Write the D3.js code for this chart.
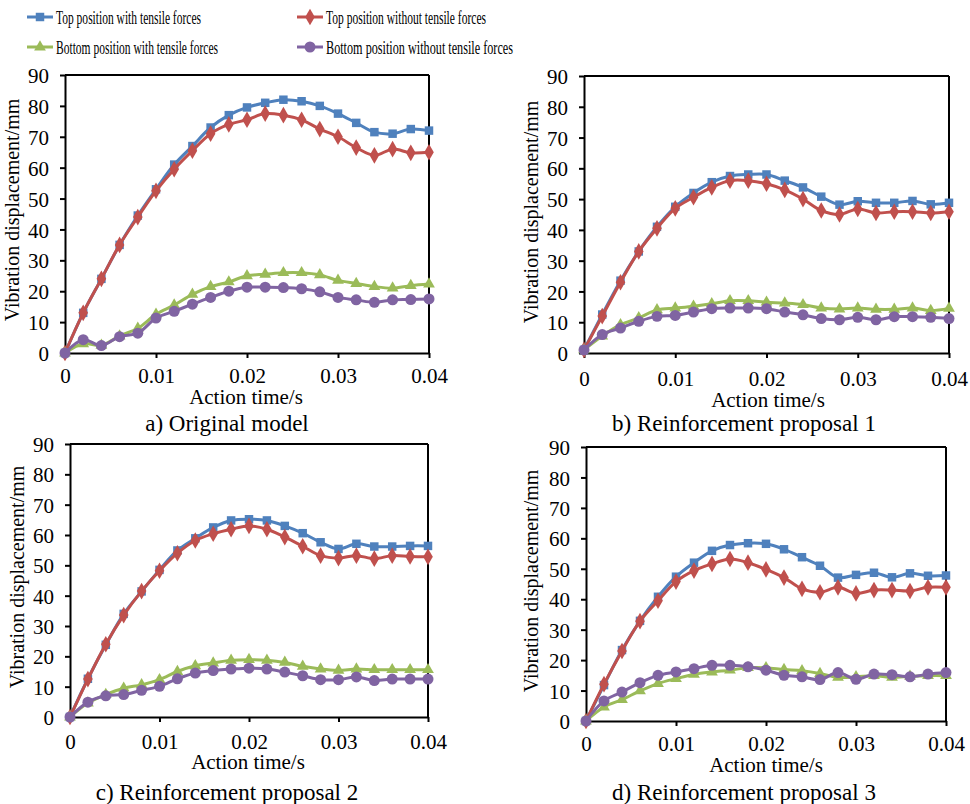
<!DOCTYPE html>
<html>
<head>
<meta charset="utf-8">
<script src="https://cdn.jsdelivr.net/npm/d3@7"></script>
<style>
  body { margin: 0; background: #fff; }
  svg { display: block; font-family: "Liberation Serif", "Times New Roman", serif; }
</style>
</head>
<body>
<script>
// action time (s)
const time = [0, 0.002, 0.004, 0.006, 0.008, 0.01, 0.012, 0.014, 0.016, 0.018, 0.02,
              0.022, 0.024, 0.026, 0.028, 0.03, 0.032, 0.034, 0.036, 0.038, 0.04];

const seriesNames = ["Top position with tensile forces", "Top position without tensile forces",
                     "Bottom position with tensile forces", "Bottom position without tensile forces"];
const captions = ["a) Original model", "b) Reinforcement proposal 1",
                  "c) Reinforcement proposal 2", "d) Reinforcement proposal 3"];

const yTicks = [0, 10, 20, 30, 40, 50, 60, 70, 80, 90];
const xTicks = [0, 0.01, 0.02, 0.03, 0.04];
const xTickLabels = ["0", "0.01", "0.02", "0.03", "0.04"];

// a) original model
const aTopWith    = [0, 13, 24, 35, 44.5, 53, 61, 67, 73, 77, 79.5, 81, 82, 81.5, 80, 77.5, 74.5, 71.5, 71, 72.5, 72];
const aTopWithout = [0, 13, 24, 35, 44, 52.5, 59.5, 65.5, 71, 74, 75.5, 77.5, 77, 75.5, 72.5, 70, 66.5, 64, 66, 64.8, 65];
const aBotWith    = [0, 3, 2.5, 5.5, 8, 12.5, 15.5, 19, 21.5, 23, 25, 25.5, 26, 26, 25.3, 23.5, 22.5, 21.5, 21, 21.8, 22.3];
const aBotWithout = [0, 4.3, 2.4, 5.3, 6.4, 11.3, 13.5, 15.8, 18, 20, 21.3, 21.3, 21.2, 20.8, 19.8, 18, 17.2, 16.4, 17.2, 17.3, 17.5];

// b) reinforcement proposal 1
const bTopWith    = [1, 12.5, 23.5, 33, 41, 47.5, 52, 55.5, 57.5, 58, 58, 56, 53.8, 50.8, 48.2, 49.3, 48.8, 48.8, 49.4, 48.3, 48.8];
const bTopWithout = [1, 12, 23, 33, 40.5, 47, 50.6, 53.8, 56, 56, 55, 53, 50, 46.3, 45, 46.8, 45.5, 45.9, 45.9, 45.5, 45.9];
const bBotWith    = [1, 5.5, 9.2, 11.4, 14, 14.6, 15.2, 16, 17, 17, 16.5, 16.2, 15.7, 14.6, 14.3, 14.6, 14.2, 14.2, 14.6, 13.8, 14.5];
const bBotWithout = [1, 6, 8.1, 10.3, 11.9, 12.2, 13.3, 14.4, 14.6, 14.6, 14.4, 13.3, 12.4, 11.2, 10.8, 11.6, 10.8, 11.8, 11.8, 11.6, 11.2];

// c) reinforcement proposal 2
const cTopWith    = [0, 12.6, 23.8, 34, 41.4, 48.5, 54.9, 58.9, 62.5, 64.8, 65.2, 64.8, 63, 60.6, 57.6, 55.4, 57.1, 56.2, 56.2, 56.4, 56.4];
const cTopWithout = [0, 12.5, 24, 33.6, 41.5, 48.2, 54, 58.2, 60.4, 61.9, 63, 61.9, 59.3, 56.3, 53.2, 52.4, 53.2, 52.2, 53.2, 52.9, 52.8];
const cBotWith    = [0, 4.6, 7.4, 9.5, 10.6, 12.3, 15, 16.9, 17.8, 18.7, 18.9, 18.7, 18, 16.7, 15.8, 15.4, 15.8, 15.6, 15.6, 15.6, 15.6];
const cBotWithout = [0, 4.9, 7, 7.4, 8.8, 10.1, 12.6, 14.5, 15.3, 15.8, 16.1, 15.8, 14.8, 13.6, 12.3, 12.3, 13.2, 12, 12.5, 12.5, 12.5];

// d) reinforcement proposal 3
const dTopWith    = [0, 11.8, 23.3, 32.9, 40.8, 47.4, 52, 55.9, 57.8, 58.4, 58.2, 56.4, 53.8, 51, 47.1, 48, 48.7, 47.2, 48.5, 47.7, 47.8];
const dTopWithout = [0, 12.1, 23, 32.8, 39.5, 45.8, 49.4, 51.6, 53.2, 52, 49.8, 47.1, 43.4, 42.3, 43.9, 41.9, 43, 43, 42.7, 43.9, 43.9];
const dBotWith    = [0, 4.6, 7, 9.9, 12.3, 13.9, 15.3, 16.1, 16.7, 17.5, 17.5, 16.9, 16.5, 15.6, 14.3, 14.5, 14.9, 14.3, 14.7, 14.9, 14.9];
const dBotWithout = [0, 6.6, 9.5, 12.6, 15, 16.1, 17.2, 18.3, 18.3, 17.8, 16.7, 15, 14.5, 13.6, 15.9, 13.7, 15.4, 15.2, 14.5, 15.4, 15.9];

const panelData = [
  [aTopWith, aTopWithout, aBotWith, aBotWithout],
  [bTopWith, bTopWithout, bBotWith, bBotWithout],
  [cTopWith, cTopWithout, cBotWith, cBotWithout],
  [dTopWith, dTopWithout, dBotWith, dBotWithout]
];

const colors = ["#4f81bd", "#c0504d", "#9bbb59", "#8064a2"];
const shapes = [d3.symbolSquare, d3.symbolDiamond, d3.symbolTriangle, d3.symbolCircle];
const shapeSize = [72, 80, 60, 95];

// plot frames + text anchors
const layout = [
  { l: 65,  r: 429, t: 75,  b: 353, xlab: 30, ytx: 19,  yty: 210, atx: 246, aty: 404, cx: 227, cy: 431 },
  { l: 584, r: 949, t: 76,  b: 353, xlab: 33, ytx: 538, yty: 212, atx: 768, aty: 407, cx: 744, cy: 431 },
  { l: 70,  r: 428, t: 444, b: 717, xlab: 32, ytx: 24,  yty: 577, atx: 248, aty: 769, cx: 227, cy: 800 },
  { l: 586, r: 946, t: 447, b: 721, xlab: 30, ytx: 538, yty: 581, atx: 766, aty: 772, cx: 744, cy: 800 }
];

const svg = d3.select("body").append("svg")
  .attr("width", 970)
  .attr("height", 804);

// legend
const legendPos = [
  { x: 27, y: 17, tw: 145 },
  { x: 297, y: 17, tw: 160 },
  { x: 27, y: 47, tw: 162 },
  { x: 297, y: 47, tw: 187 }
];
seriesNames.forEach((name, i) => {
  const p = legendPos[i];
  const g = svg.append("g").attr("transform", `translate(${p.x},${p.y})`);
  g.append("line")
    .attr("x1", 0).attr("x2", 26)
    .attr("stroke", colors[i]).attr("stroke-width", 3);
  g.append("path")
    .attr("transform", "translate(13,0)")
    .attr("d", d3.symbol().type(shapes[i]).size(shapeSize[i])())
    .attr("fill", colors[i]);
  g.append("text")
    .attr("x", 29).attr("y", 7)
    .attr("font-size", 19)
    .attr("textLength", p.tw)
    .attr("lengthAdjust", "spacingAndGlyphs")
    .text(name);
});

layout.forEach((L, k) => {
  const x = d3.scaleLinear().domain([0, 0.04]).range([L.l, L.r]);
  const y = d3.scaleLinear().domain([0, 90]).range([L.b, L.t]);
  const g = svg.append("g");

  // frame (top and right sides)
  g.append("line").attr("x1", L.l).attr("x2", L.r).attr("y1", L.t).attr("y2", L.t)
    .attr("stroke", "#000").attr("stroke-width", 2);
  g.append("line").attr("x1", L.r).attr("x2", L.r).attr("y1", L.t).attr("y2", L.b)
    .attr("stroke", "#000").attr("stroke-width", 2);

  const yAxis = g.append("g")
    .attr("transform", `translate(${L.l},0)`)
    .call(d3.axisLeft(y).tickValues(yTicks).tickSize(5).tickSizeOuter(0).tickPadding(11));
  const xAxis = g.append("g")
    .attr("transform", `translate(0,${L.b})`)
    .call(d3.axisBottom(x).tickValues(xTicks).tickSize(5).tickSizeOuter(0)
      .tickFormat((d, i) => xTickLabels[i]));

  [yAxis, xAxis].forEach(ax => {
    ax.select(".domain").attr("stroke", "#000").attr("stroke-width", 2);
    ax.selectAll(".tick line").attr("stroke", "#000").attr("stroke-width", 2);
    ax.selectAll("text")
      .attr("fill", "#000")
      .attr("font-size", 21)
      .attr("font-family", "Liberation Serif, Times New Roman, serif");
  });
  xAxis.selectAll("text").attr("dy", null).attr("y", L.xlab);
  yAxis.selectAll("text").attr("dy", "0.36em");

  // series, drawn blue, red, green, purple
  const line = d3.line()
    .x((d, i) => x(time[i]))
    .y(d => y(d))
    .curve(d3.curveCatmullRom.alpha(0.5));

  panelData[k].forEach((vals, s) => {
    g.append("path")
      .datum(vals)
      .attr("d", line)
      .attr("fill", "none")
      .attr("stroke", colors[s])
      .attr("stroke-width", 3);
    g.selectAll(null)
      .data(vals)
      .enter()
      .append("path")
      .attr("transform", (d, i) => `translate(${x(time[i])},${y(d)})`)
      .attr("d", d3.symbol().type(shapes[s]).size(shapeSize[s])())
      .attr("fill", colors[s]);
  });

  // titles
  g.append("text")
    .attr("transform", `translate(${L.ytx},${L.yty}) rotate(-90)`)
    .attr("text-anchor", "middle")
    .attr("font-size", 20)
    .text("Vibration displacement/mm");
  g.append("text")
    .attr("x", L.atx).attr("y", L.aty)
    .attr("text-anchor", "middle")
    .attr("font-size", 21)
    .text("Action time/s");
  g.append("text")
    .attr("x", L.cx).attr("y", L.cy)
    .attr("text-anchor", "middle")
    .attr("font-size", 23)
    .text(captions[k]);
});
</script>
</body>
</html>
